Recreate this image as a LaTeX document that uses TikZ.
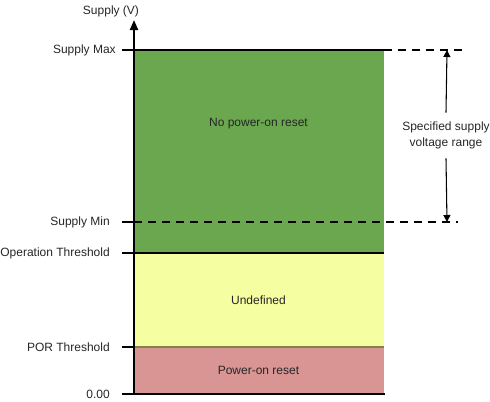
\documentclass[tikz,border=0pt]{standalone}
\usepackage{fontspec}
\setmainfont{Liberation Sans}
\usetikzlibrary{arrows.meta}
\definecolor{gfill}{RGB}{106,167,79}
\definecolor{yfill}{RGB}{245,254,160}
\definecolor{rfill}{RGB}{217,149,148}
\definecolor{oline}{RGB}{130,130,70}
\begin{document}
\begin{tikzpicture}[x=0.75pt,y=-0.75pt,
  lbl/.style={font=\fontsize{9pt}{11pt}\selectfont, text=black!85, inner sep=0pt},
  ylbl/.style={lbl, anchor=east},
  tick/.style={line width=0.8pt},
  dashln/.style={line width=0.8pt, dash pattern=on 6pt off 4.5pt},
  axis/.style={line width=1.6pt},
  dimarrow/.style={line width=0.8pt, -{Triangle[length=5.25pt,width=5.25pt]}}]
\useasboundingbox (0,0) rectangle (490,401);
% regions
\fill[gfill] (134,50) rectangle (383.5,253);
\fill[yfill] (134,253) rectangle (383.5,347);
\fill[rfill] (134,347) rectangle (383.5,394);
\draw[oline, line width=0.8pt] (134,347) -- (383.5,347);
\draw[line width=0.9pt] (134,253) -- (383.5,253);
% coordinates
\coordinate (smaxL) at (122,50);
\coordinate (smaxR) at (383.5,50);
\coordinate (smaxE) at (462,50);
\coordinate (sminL) at (122,222);
\coordinate (sminA) at (134,222);
\coordinate (sminE) at (458,222);
\coordinate (opL) at (122,253);
\coordinate (opR) at (134,253);
\coordinate (porL) at (122,347);
\coordinate (porR) at (134,347);
\coordinate (zeroL) at (122,394);
\coordinate (zeroR) at (134,394);
\coordinate (axisEnd) at (385,394);
\coordinate (axisTop) at (134,20);
\coordinate (rngTop) at (447,50);
\coordinate (rngBot) at (447,222);
% ticks and lines
\draw[tick] (smaxL) -- (smaxR);
\draw[dashln] (smaxR) -- (smaxE);
\draw[tick] (sminL) -- (sminA);
\draw[dashln] (sminA) -- (sminE);
\draw[tick] (opL) -- (opR);
\draw[tick] (porL) -- (porR);
\draw[tick] (zeroL) -- (zeroR);
% axes
\draw[axis] (zeroR) -- (axisEnd);
\draw[axis, -{Triangle[length=7.5pt,width=6pt]}] (zeroR) -- (axisTop);
% labels
\node[lbl] (ytitle) at (111,11) {Supply (V)};
\node[ylbl] (lmax) at (116,50) {Supply Max};
\node[ylbl] (lmin) at (110,222) {Supply Min};
\node[ylbl] (lop) at (110,253) {Operation Threshold};
\node[ylbl] (lpor) at (110,347) {POR Threshold};
\node[ylbl] (lzero) at (110,394) {0.00};
\node[lbl] (rg) at (258.5,124) {No power-on reset};
\node[lbl] (ry) at (258.5,300) {Undefined};
\node[lbl] (rr) at (258.5,370) {Power-on reset};
\node[lbl, align=center, inner sep=0pt, minimum height=34pt] (rng) at (446,135.5) {Specified supply\\[1pt]voltage range};
\draw[dimarrow] (rng.north) -- (rngTop);
\draw[dimarrow] (rng.south) -- (rngBot);
\end{tikzpicture}
\end{document}
